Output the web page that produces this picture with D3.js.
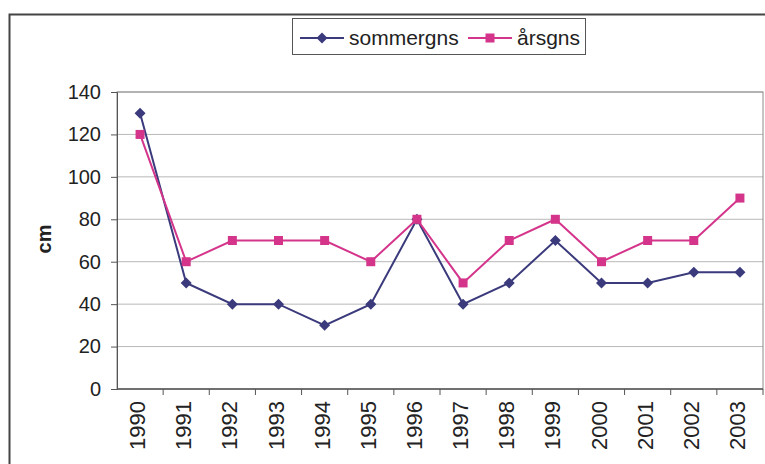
<!DOCTYPE html>
<html>
<head>
<meta charset="utf-8">
<script src="https://cdn.jsdelivr.net/npm/d3@7"></script>
<style>
  html, body { margin: 0; padding: 0; background: #fff; }
  svg { display: block; font-family: Arial, "Liberation Sans", sans-serif; }
</style>
</head>
<body>
<svg id="chart" width="765" height="464"></svg>
<script>
// Years on the category axis
const years = ["1990","1991","1992","1993","1994","1995","1996","1997","1998","1999","2000","2001","2002","2003"];
// Summer average (cm)
const sommergns = [130, 50, 40, 40, 30, 40, 80, 40, 50, 70, 50, 50, 55, 55];
// Annual average (cm)
const arsgns = [120, 60, 70, 70, 70, 60, 80, 50, 70, 80, 60, 70, 70, 90];
// Value axis ticks
const yTicks = [0, 20, 40, 60, 80, 100, 120, 140];

const seriesList = [
  { name: "sommergns", values: sommergns, color: "#3a3a7c", marker: "diamond" },
  { name: "årsgns", values: arsgns, color: "#d4358b", marker: "square" }
];

const svg = d3.select("#chart");
const plot = { left: 117, right: 763, top: 92, bottom: 389 };

// Outer chart frame
svg.append("path")
  .attr("d", "M9.5,464 V14.5 H765")
  .attr("fill", "none").attr("stroke", "#444").attr("stroke-width", 2);

const x = d3.scaleBand().domain(years).range([plot.left, plot.right]);
const y = d3.scaleLinear().domain([0, 140]).range([plot.bottom, plot.top]);

// Horizontal gridlines
svg.append("g").selectAll("line").data(yTicks.filter(d => d > 0)).join("line")
  .attr("x1", plot.left).attr("x2", plot.right)
  .attr("y1", d => y(d)).attr("y2", d => y(d))
  .attr("stroke", "#b8b8b8").attr("stroke-width", 1);

// Plot area border
svg.append("rect")
  .attr("x", plot.left).attr("y", plot.top)
  .attr("width", plot.right - plot.left).attr("height", plot.bottom - plot.top)
  .attr("fill", "none").attr("stroke", "#8a8a8a").attr("stroke-width", 1);

// Y axis
const yAxis = svg.append("g")
  .attr("transform", `translate(${plot.left},0)`)
  .call(d3.axisLeft(y).tickValues(yTicks).tickSize(6).tickPadding(10));
yAxis.select(".domain").attr("stroke", "#555");
yAxis.selectAll(".tick line").attr("stroke", "#555");
yAxis.selectAll(".tick text").attr("font-size", 20).attr("fill", "#222")
  .attr("font-family", "Arial, 'Liberation Sans', sans-serif");

// X axis: ticks at category boundaries, labels rotated
const xAxis = svg.append("g").attr("transform", `translate(0,${plot.bottom})`);
xAxis.append("line")
  .attr("x1", plot.left).attr("x2", plot.right)
  .attr("stroke", "#555").attr("stroke-width", 1.5);
xAxis.selectAll("line.tk").data(years.slice(1)).join("line").attr("class", "tk")
  .attr("x1", d => x(d)).attr("x2", d => x(d))
  .attr("y1", 0).attr("y2", 6).attr("stroke", "#555");
xAxis.append("line").attr("x1", plot.right).attr("x2", plot.right)
  .attr("y1", 0).attr("y2", 6).attr("stroke", "#555");
xAxis.selectAll("text").data(years).join("text")
  .attr("transform", d => `translate(${x(d) + x.bandwidth() / 2 + 5},12) rotate(-90)`)
  .attr("text-anchor", "end")
  .attr("font-size", 22).attr("fill", "#222")
  .text(d => d);

// Y axis title
svg.append("text")
  .attr("transform", "translate(51,239) rotate(-90)")
  .attr("text-anchor", "middle")
  .attr("font-size", 20).attr("font-weight", "bold").attr("fill", "#222")
  .text("cm");

const cx = d => x(d) + x.bandwidth() / 2;
const line = d3.line().x(d => cx(d.year)).y(d => y(d.value));

function drawMarker(g, kind, color) {
  if (kind === "diamond") {
    g.append("path").attr("d", "M0,-5.5 L5.5,0 L0,5.5 L-5.5,0 Z").attr("fill", color);
  } else {
    g.append("rect").attr("x", -4.5).attr("y", -4.5).attr("width", 9).attr("height", 9).attr("fill", color);
  }
}

// Series lines and markers
seriesList.forEach(s => {
  const pts = years.map((yr, i) => ({ year: yr, value: s.values[i] }));
  svg.append("path").datum(pts)
    .attr("d", line).attr("fill", "none")
    .attr("stroke", s.color).attr("stroke-width", 2);
  svg.append("g").selectAll("g").data(pts).join("g")
    .attr("transform", d => `translate(${cx(d.year)},${y(d.value)})`)
    .each(function () { drawMarker(d3.select(this), s.marker, s.color); });
});

// Legend
const legend = svg.append("g");
legend.append("rect")
  .attr("x", 292.5).attr("y", 18.5).attr("width", 293).attr("height", 36)
  .attr("fill", "#fff").attr("stroke", "#555").attr("stroke-width", 1);
const legendItems = [
  { s: seriesList[0], x0: 300, tx: 349 },
  { s: seriesList[1], x0: 468, tx: 517 }
];
legendItems.forEach(it => {
  legend.append("line")
    .attr("x1", it.x0).attr("x2", it.x0 + 44).attr("y1", 38).attr("y2", 38)
    .attr("stroke", it.s.color).attr("stroke-width", 2);
  const g = legend.append("g").attr("transform", `translate(${it.x0 + 22},38)`);
  drawMarker(g, it.s.marker, it.s.color);
  legend.append("text")
    .attr("x", it.tx).attr("y", 45)
    .attr("font-size", 21).attr("fill", "#222")
    .text(it.s.name);
});
</script>
</body>
</html>
